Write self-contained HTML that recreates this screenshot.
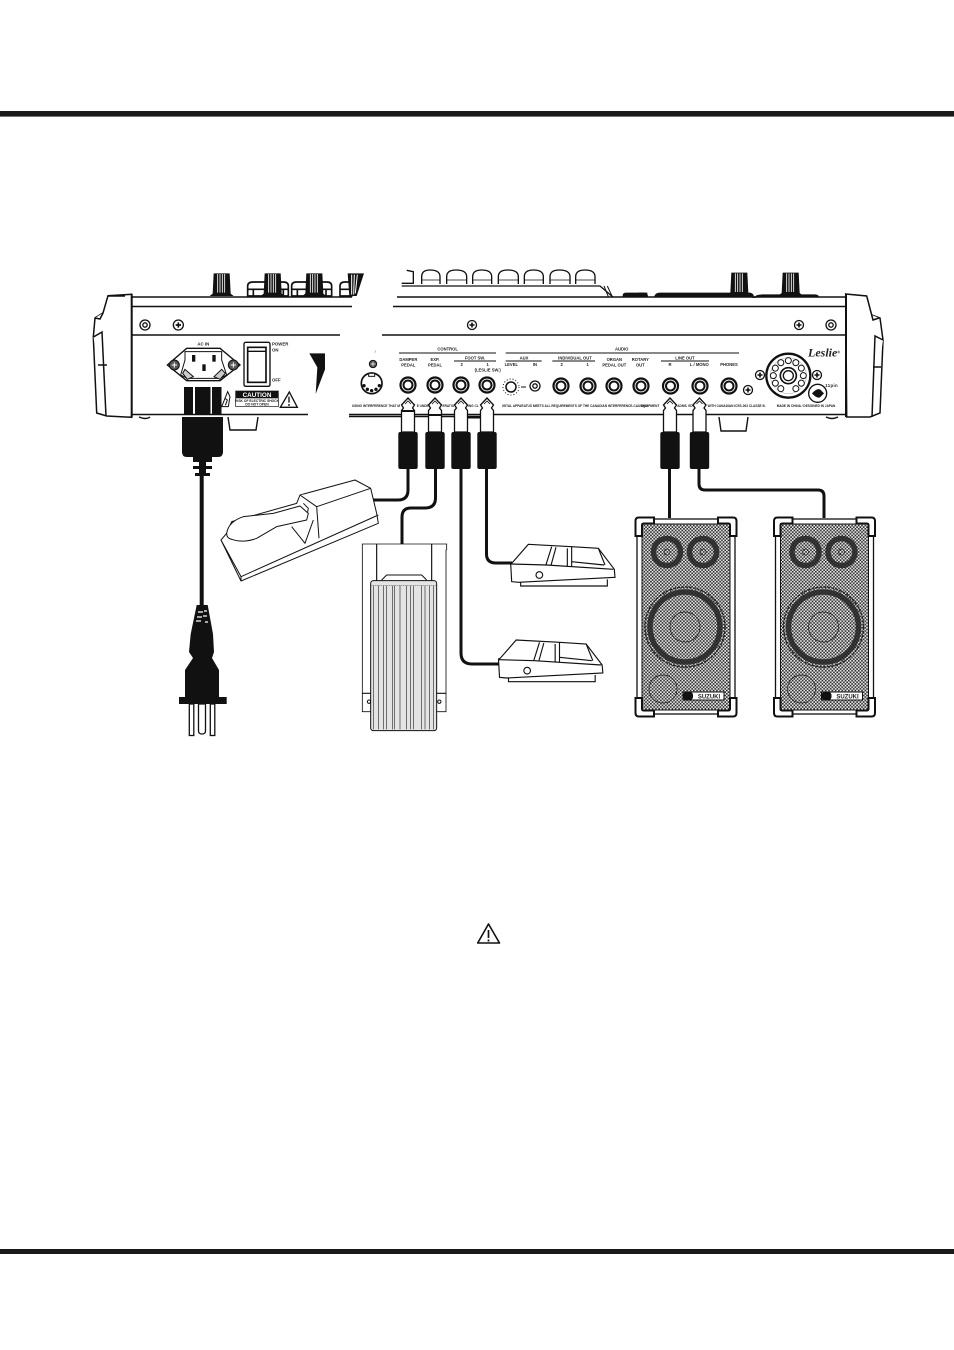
<!DOCTYPE html>
<html><head><meta charset="utf-8"><style>
html,body{margin:0;padding:0;background:#fff}
svg{display:block}
text{font-family:"Liberation Sans",sans-serif;fill:#222}
</style></head><body>
<svg width="954" height="1350" viewBox="0 0 954 1350" xmlns="http://www.w3.org/2000/svg">
<defs>
<pattern id="mesh" width="3.3" height="3.3" patternUnits="userSpaceOnUse">
<rect width="3.3" height="3.3" fill="#f0f0f0"/>
<rect width="1.65" height="1.65" fill="#2a2a2a"/><rect x="1.65" y="1.65" width="1.65" height="1.65" fill="#2a2a2a"/>
</pattern>
<g id="jack"><circle r="7.500" fill="#fff" stroke="#111" stroke-width="2.200"/><circle r="4.500" fill="#fff" stroke="#111" stroke-width="2"/></g>
<g id="cross"><circle r="4.500" fill="#fff" stroke="#111" stroke-width="1.300"/><path d="M-2.500 0H2.500M0-2.500V2.500" stroke="#111" stroke-width="1.600"/></g>
<g id="ring"><circle r="5" fill="#fff" stroke="#111" stroke-width="1.300"/><circle r="2.200" fill="#fff" stroke="#111" stroke-width="1.300"/></g>
<g id="plug">
<path d="M0 398L-6.500 405-4.500 408-6.500 410.500V432H6.500V410.500L4.500 408 6.500 405Z" fill="#fff" stroke="#111" stroke-width="1.300"/>
<path d="M-3 404L0 401 3 404" fill="none" stroke="#111" stroke-width=".8"/>
<rect x="-9.700" y="432" width="19.400" height="37" rx="2" fill="#111"/>
</g>
<g id="knob"><path d="M-36 0L-27-7-24-68H24L27-7 36 0Z" fill="#111"/><path d="M-12-66V-10M-5-66V-10M2-66V-10M9-66V-10" stroke="#fff" stroke-width="2.500"/></g>
<g id="fs" fill="none" stroke="#111" stroke-width="3.400">
<path d="M182 130L185 185 205 187 495 172 493 148 445 85 365 80 235 73 187 128Z" fill="#fff"/>
<path d="M182 132L290 135 490 148M212 187V198H472V178M305 80L288 134M318 82L303 136M352 85V139M365 80V139M365 125L462 135M445 85L465 135"/>
<circle cx="268" cy="165" r="10"/>
</g>
<g id="spk">
<rect x="637" y="519" width="98" height="195" fill="#fff" stroke="#111" stroke-width="1.300"/>
<rect x="642" y="524" width="88" height="186" fill="url(#mesh)" stroke="#111" stroke-width="1"/>
<g fill="none" stroke="#222">
<circle cx="667" cy="552" r="13.500" stroke-width="5.500" stroke-opacity=".85"/><circle cx="703" cy="552" r="13.500" stroke-width="5.500" stroke-opacity=".85"/>
<circle cx="667" cy="552" r="3" stroke-width=".7"/><circle cx="703" cy="552" r="3" stroke-width=".7"/>
<circle cx="685" cy="627" r="35" stroke-width="5.500" stroke-opacity=".85"/><circle cx="685" cy="627" r="40" stroke-width="1.400" stroke-dasharray="3 1"/>
<circle cx="685" cy="627" r="15" stroke-width=".7"/><circle cx="663" cy="689" r="14" stroke-width=".7"/>
</g>
<rect x="683" y="692" width="41" height="8" fill="#fff" stroke="#111" stroke-width="1"/>
<rect x="683" y="692" width="10" height="8" rx="3" fill="#111"/>
<text x="709" y="698.600" font-size="6" text-anchor="middle" font-weight="bold">SUZUKI</text>
<g fill="#fff" stroke="#111" stroke-width="2">
<path d="M635.500 536V521Q635.500 517.500 639 517.500H654V523.500H644Q642 523.500 642 525V536Z"/>
<path d="M736.500 536V521Q736.500 517.500 733 517.500H718V523.500H728Q730 523.500 730 525V536Z"/>
<path d="M635.500 698V713Q635.500 716.500 639 716.500H654V710.500H644Q642 710.500 642 709V698Z"/>
<path d="M736.500 698V713Q736.500 716.500 733 716.500H718V710.500H728Q730 710.500 730 709V698Z"/>
</g>
</g>
</defs>

<rect x="0" y="111" width="954" height="5.600" fill="#1a1a1a"/>
<rect x="0" y="1249" width="954" height="5" fill="#1a1a1a"/>

<!-- panel lines -->
<g stroke="#111" stroke-width="1.400" fill="none">
<path d="M131 297H352M397 297H846"/>
<path d="M131 306.500H352M393 306.500H846"/>
<path d="M131 335H340M382 335H846"/>
<path d="M131 414.500H308M349 414.500H846"/>
<path d="M349 416.500H490"/>
<path d="M228 417L230 430H256L258 417"/>
<path d="M719 417L721 431H746L748 417"/>
<path d="M139 417Q146 420 150 417M826 417Q832 420 838 417"/>
</g>

<!-- end caps -->
<g fill="#fff" stroke="#111" stroke-width="1.500">
<path d="M131.700 294.300L108 295.700 103 313 95 318 93.300 337 96.700 413 106.700 416 131.700 417.300Z"/>
<path d="M95 318L100 319 103 313M93.500 337L102 332 106 416M98 365H107M108 296L125 296"/>
<path d="M131.700 294V417" stroke-width="2"/>
<path d="M845.700 294L866.700 296 871.700 315 880 318 883 340 880 413 870 417 846.700 417Z"/>
<path d="M879 318L873 320 871.700 315M883 340L875 336 872 417M881 367H873"/>
<path d="M846 294V417" stroke-width="2"/>
</g>

<!-- knobs etc top (zoom-1 coords) -->
<g transform="translate(80 260) scale(.33333)">
<g fill="#fff" stroke="#111" stroke-width="5">
<path d="M503 108V78Q503 66 520 66H610Q625 66 625 78V108ZM635 108V78Q635 66 650 66H740Q755 66 755 78V108ZM780 108V78Q780 66 795 66H815V108Z"/>
<path d="M503 88H625M635 88H755M780 88H815M520 88V108M610 88V108M652 88V108M738 88V108"/>
</g>
<use href="#knob" transform="translate(425 108)"/>
<use href="#knob" transform="translate(578 108)"/>
<use href="#knob" transform="translate(703 108)"/>
<path d="M803 40H852L830 108H808Z" fill="#111"/><path d="M815 44L815 104M823 44L821 104M832 44L826 100" stroke="#fff" stroke-width="3"/>
</g>
<g transform="translate(350 260) scale(.33333)" fill="none" stroke="#111" stroke-width="4">
<path d="M155 78H750L790 112M155 70H190V35L170 31"/>
<path d="M215 72V50Q215 30 240 30Q270 30 270 50V72M290 72V50Q290 30 318 30Q350 30 350 50V72M368 72V50Q368 30 395 30Q425 30 425 50V72M445 72V50Q445 30 473 30Q505 30 505 50V72M523 72V50Q523 30 550 30Q580 30 580 50V72M600 72V50Q600 30 628 30Q660 30 660 50V72M677 72V50Q677 30 705 30Q735 30 735 50V72"/>
<path d="M215 60H270M290 60H350M368 60H425M445 60H505M523 60H580M600 60H660M677 60H735" stroke-width="2"/>
<path d="M762 78L775 110M772 78L787 110" stroke-width="3"/>
<path d="M820 110V106Q820 100 830 100H880Q892 100 892 110" fill="#111"/>
</g>
<g transform="translate(640 260) scale(.33333)">
<path d="M-5 100H20V110M45 110Q47 100 60 100H330Q340 102 340 112H345Q348 105 370 105H525Q535 105 535 112" fill="#111" stroke="#111" stroke-width="4"/>
<use href="#knob" transform="translate(298 106)"/>
<use href="#knob" transform="translate(452 106)"/>
</g>

<!-- left panel (zoom-1 coords) -->
<g transform="translate(80 260) scale(.33333)">
<circle cx="195" cy="195" r="15" fill="#fff" stroke="#111" stroke-width="4"/><circle cx="195" cy="195" r="6.500" fill="#fff" stroke="#111" stroke-width="4"/>
<circle cx="295" cy="195" r="15" fill="#fff" stroke="#111" stroke-width="4"/><path d="M287 195H303M295 187V203" stroke="#111" stroke-width="5"/>
<text x="370" y="256" font-size="13" text-anchor="middle" font-weight="bold">AC IN</text>
<g fill="#fff" stroke="#111" stroke-width="4">
<path d="M262 315L320 265H420L480 315 420 362H320Z"/>
<path d="M315 275H425V300L440 345 420 355H322L302 345 315 300Z" stroke-width="3"/>
</g>
<circle cx="283" cy="315" r="15" fill="#555" stroke="#111" stroke-width="3"/><circle cx="460" cy="315" r="15" fill="#555" stroke="#111" stroke-width="3"/>
<path d="M275 315H291M283 307V323M452 315H468M460 307V323" stroke="#fff" stroke-width="3"/>
<rect x="336" y="285" width="10" height="20" fill="#111"/><rect x="397" y="285" width="10" height="20" fill="#111"/><rect x="367" y="313" width="10" height="20" fill="#111"/>
<path d="M315 328L340 350 322 358 308 340ZM425 328L402 350 420 358 436 340Z" fill="#ccc" stroke="#111" stroke-width="3"/>
<rect x="492" y="247" width="78" height="132" rx="5" fill="#fff" stroke="#111" stroke-width="4"/>
<rect x="503" y="262" width="55" height="105" fill="#fff" stroke="#111" stroke-width="5"/>
<path d="M503 274H558" stroke="#111" stroke-width="4"/>
<text x="576" y="256" font-size="13" font-weight="bold">POWER</text><text x="576" y="275" font-size="13" font-weight="bold">ON</text><text x="576" y="364" font-size="13" font-weight="bold">OFF</text>
<path d="M688 280H735V328L707 402 712 322Z" fill="#111"/>
<path d="M425 440L443 395 450 410 445 440Z" fill="#fff" stroke="#111" stroke-width="3"/>
<path d="M435 415L442 420 436 436" fill="none" stroke="#111" stroke-width="3"/>
<rect x="467" y="393" width="128" height="47" fill="#fff" stroke="#111" stroke-width="2"/>
<rect x="467" y="393" width="128" height="22" fill="#111"/>
<text x="531" y="411" font-size="19" font-weight="bold" text-anchor="middle" style="fill:#fff">CAUTION</text>
<text x="531" y="426" font-size="10" text-anchor="middle" font-weight="bold">RISK OF ELECTRIC SHOCK</text>
<text x="531" y="437" font-size="10" text-anchor="middle" font-weight="bold">DO NOT OPEN</text>
<path d="M601 442L628 396 652 442Z" fill="#fff" stroke="#111" stroke-width="4"/>
<path d="M627 410V428M627 432V438" stroke="#111" stroke-width="4"/>
<text x="884" y="279" font-size="11">/</text>
<circle cx="879" cy="312" r="11" fill="#555" stroke="#111" stroke-width="3"/><path d="M872 312H886M879 305V319" stroke="#fff" stroke-width="2"/>
<circle cx="875" cy="370" r="31" fill="#fff" stroke="#111" stroke-width="5"/>
<rect x="866" y="340" width="18" height="9" fill="#fff" stroke="#111" stroke-width="3"/>
<circle cx="852" cy="377" r="5" fill="#111"/><circle cx="898" cy="377" r="5" fill="#111"/><circle cx="862" cy="388" r="5" fill="#111"/><circle cx="888" cy="388" r="5" fill="#111"/><circle cx="875" cy="392" r="5" fill="#111"/>
</g>

<!-- center panel labels (zoom-2 coords) -->
<g transform="translate(350 260) scale(.33333)" font-size="12.500" text-anchor="middle" font-weight="bold">
<g stroke="#111" stroke-width="3" fill="none"><path d="M147 279H438M467 279H900M312 303H438M467 303H575M607 303H735"/></g>
<text x="293" y="271">CONTROL</text><text x="815" y="271">AUDIO</text>
<text x="175" y="303">DAMPER</text><text x="175" y="319">PEDAL</text>
<text x="255" y="303">EXP.</text><text x="255" y="319">PEDAL</text>
<text x="375" y="298">FOOT SW.</text><text x="335" y="318">2</text><text x="413" y="318">1</text><text x="413" y="335">(LESLIE SW.)</text>
<text x="522" y="298">AUX</text><text x="484" y="318">LEVEL</text><text x="555" y="318">IN</text>
<text x="675" y="298">INDIVIDUAL OUT</text><text x="635" y="318">2</text><text x="713" y="318">1</text>
<text x="793" y="303">ORGAN</text><text x="793" y="319">PEDAL OUT</text>
<text x="871" y="303">ROTARY</text><text x="871" y="319">OUT</text>
<g font-size="9.500">
<text x="78" y="441">USING INTERFERENCE THAT M</text>
<text x="218" y="441">E UNDE</text><text x="295" y="441">ERATIO</text><text x="370" y="441">ING CL</text>
<text x="675" y="441">IGITAL APPARATUS MEETS ALL REQUIREMENTS OF THE CANADIAN INTERFERENCE-CAUSING</text>
</g>
</g>
<!-- right panel labels (zoom-3 coords) -->
<g transform="translate(640 260) scale(.33333)" font-size="12.500" text-anchor="middle" font-weight="bold">
<path d="M-30 279H297M63 303H207" stroke="#111" stroke-width="3" fill="none"/>
<text x="135" y="298">LINE OUT</text><text x="90" y="318">R</text><text x="178" y="318">L / MONO</text><text x="267" y="318">PHONES</text>
<g font-size="9.500"><text x="30" y="441">EQUIPMENT</text><text x="135" y="441">ADMS. ED</text><text x="290" y="441">WITH CANADIAN ICES-003 CLASSE B.</text><text x="498" y="441">MADE IN CHINA / DESIGNED IN JAPAN</text></g>
<text x="548" y="290" font-size="36" font-style="italic" font-weight="bold" style="font-family:'Liberation Serif',serif">Leslie</text>
<text x="596" y="280" font-size="12">®</text>
<circle cx="445" cy="347" r="66" fill="#fff" stroke="#111" stroke-width="7"/>
<circle cx="445" cy="347" r="54" fill="#fff" stroke="#777" stroke-width="1"/>
<g fill="#fff" stroke="#111" stroke-width="3">
<circle cx="445" cy="302" r="9" transform="rotate(-150 445 347)"/><circle cx="445" cy="302" r="9" transform="rotate(-120 445 347)"/><circle cx="445" cy="302" r="9" transform="rotate(-90 445 347)"/><circle cx="445" cy="302" r="9" transform="rotate(-60 445 347)"/><circle cx="445" cy="302" r="9" transform="rotate(-30 445 347)"/><circle cx="445" cy="302" r="9"/><circle cx="445" cy="302" r="9" transform="rotate(30 445 347)"/><circle cx="445" cy="302" r="9" transform="rotate(60 445 347)"/><circle cx="445" cy="302" r="9" transform="rotate(90 445 347)"/><circle cx="445" cy="302" r="9" transform="rotate(120 445 347)"/><circle cx="445" cy="302" r="9" transform="rotate(150 445 347)"/>
</g>
<circle cx="445" cy="347" r="24" fill="#fff" stroke="#111" stroke-width="5"/><circle cx="445" cy="347" r="15" fill="#fff" stroke="#111" stroke-width="4"/>
<circle cx="533" cy="400" r="27" fill="#fff" stroke="#111" stroke-width="4"/>
<path d="M516 400Q530 384 540 388L552 400 540 412Q530 416 516 400Z" fill="#111"/>
<text x="575" y="381" font-size="13" letter-spacing="1">11pin</text>
</g>

<!-- jacks -->
<use href="#jack" x="408" y="385"/><use href="#jack" x="435" y="385"/><use href="#jack" x="461" y="385"/><use href="#jack" x="487" y="385"/>
<use href="#jack" x="561" y="386"/><use href="#jack" x="588" y="386"/><use href="#jack" x="614" y="386"/><use href="#jack" x="641" y="386"/>
<use href="#jack" x="670.500" y="386"/><use href="#jack" x="700" y="386"/><use href="#jack" x="729" y="386"/>
<use href="#ring" x="535" y="386"/>
<circle cx="511" cy="387" r="5" fill="#fff" stroke="#111" stroke-width="1.500"/><circle cx="511" cy="387" r="8" fill="none" stroke="#111" stroke-width="1" stroke-dasharray="1 2"/>
<path d="M521 387H526" stroke="#111" stroke-width="1"/>
<use href="#cross" x="748" y="390"/><use href="#cross" x="760" y="375"/><use href="#cross" x="817" y="375"/>
<use href="#cross" x="472" y="325"/><use href="#cross" x="799" y="325"/><use href="#ring" x="831" y="325"/>
<rect x="466" y="416" width="14" height="2.500" fill="#111"/>

<!-- cables -->
<g fill="none" stroke="#111" stroke-width="3" stroke-linejoin="round">
<path d="M408 468V490Q408 500 398 500H372"/>
<path d="M435.500 468V498Q435.500 508 425 508H411Q402 508 402 517V544"/>
<path d="M461 468V653Q461 664 472 664H499"/>
<path d="M486.500 468V554Q486.500 563 496 563H512"/>
<path d="M669.500 468V518"/>
<path d="M699 468V484Q699 490 705 490H818Q824 490 824 496V518"/>
</g>
<use href="#plug" x="408"/><use href="#plug" x="435"/><use href="#plug" x="461"/><use href="#plug" x="487"/><use href="#plug" x="670"/><use href="#plug" x="699.500"/>
<rect x="401.500" y="410" width="13" height="2" fill="#111"/>
<rect x="428.500" y="414" width="13" height="2" fill="#111"/>

<!-- power plug IEC -->
<g fill="#111">
<rect x="184" y="387" width="9" height="28"/><rect x="195" y="387" width="15.500" height="28"/><rect x="212" y="387" width="9.500" height="28"/>
<path d="M182 417H223V452Q223 457 218 457H187Q182 457 182 452Z"/>
<path d="M193 457H212V462H206V466H212V469H206V473H210V476H195V473H199V469H193V466H199V462H193Z"/>
<rect x="199.700" y="473" width="4" height="132"/>
<path d="M196.700 605H207.700L213 634 214 652 212 658 219 670V697H226.700V704H179V697H185V670L193 658 189 652 190.700 634Z"/>
</g>
<path d="M198 612H203M204 611H207M197 617H202M203 616H207M196 621H201M205 622H208" stroke="#fff" stroke-width="1.200"/>
<g fill="#fff" stroke="#111" stroke-width="1.300">
<rect x="189.300" y="704" width="4.500" height="31.500"/>
<path d="M198.500 704V731Q198.500 734 202 734T205.500 731V704Z"/>
<rect x="210.300" y="704" width="4.500" height="31.500"/>
</g>

<!-- sustain pedal (zoom-4 coords) -->
<g transform="translate(160 470) scale(.33333)" fill="#fff" stroke="#111" stroke-width="3" stroke-linejoin="round">
<path d="M183 210L243 333 655 160 650 130 632 55 585 30 420 75 410 100 215 155 200 190Z"/>
<path d="M420 75L470 110 632 55M470 110L477 205M183 210L243 320 655 135M243 320V333"/>
<path d="M395 170L435 220 460 150M430 100L445 115 442 130"/>
<path d="M200 190Q205 155 250 140L340 130 420 108 445 130 440 150 350 170 290 205Q250 220 215 208Q200 205 200 190Z"/>
</g>

<!-- expression pedal (zoom-4 coords) -->
<g transform="translate(160 470) scale(.33333)" fill="#fff" stroke="#111" stroke-width="3">
<path d="M607 240V222H860V240M607 222V725H635M860 240H858V725H830" stroke-width="2.500"/>
<path d="M650 222V335M815 222V335M607 670H635M858 670H830" fill="none" stroke-width="3.500"/>
<path d="M665 330L680 315H785L800 330" fill="none"/>
<circle cx="627" cy="695" r="5"/><circle cx="838" cy="695" r="5"/>
<rect x="632" y="332" width="198" height="450" rx="8" fill="#e4e4e4"/>
<path d="M640 347V778M655 347V778M670 347V778M680 347V778M698 347V778M703 347V778M720 347V778M740 347V778M752 347V778M760 347V778M785 347V778M795 347V778M808 347V778M820 347V778" stroke-width="2" stroke="#333"/>
<path d="M632 347H830" stroke-width="1.500" stroke-dasharray="3 3"/>
</g>

<!-- footswitches -->
<g transform="translate(450 520) scale(.33333)"><use href="#fs"/><use href="#fs" x="-36.500" y="287"/></g>

<!-- speakers -->
<use href="#spk"/><use href="#spk" x="138.500"/>

<!-- warning icon -->
<path d="M477.700 943L488.500 924 499.500 943Z" fill="#fff" stroke="#111" stroke-width="1.600" stroke-linejoin="round"/>
<path d="M488.500 930V938M488.500 939.500V941.500" stroke="#111" stroke-width="1.700"/>
</svg>
</body></html>
